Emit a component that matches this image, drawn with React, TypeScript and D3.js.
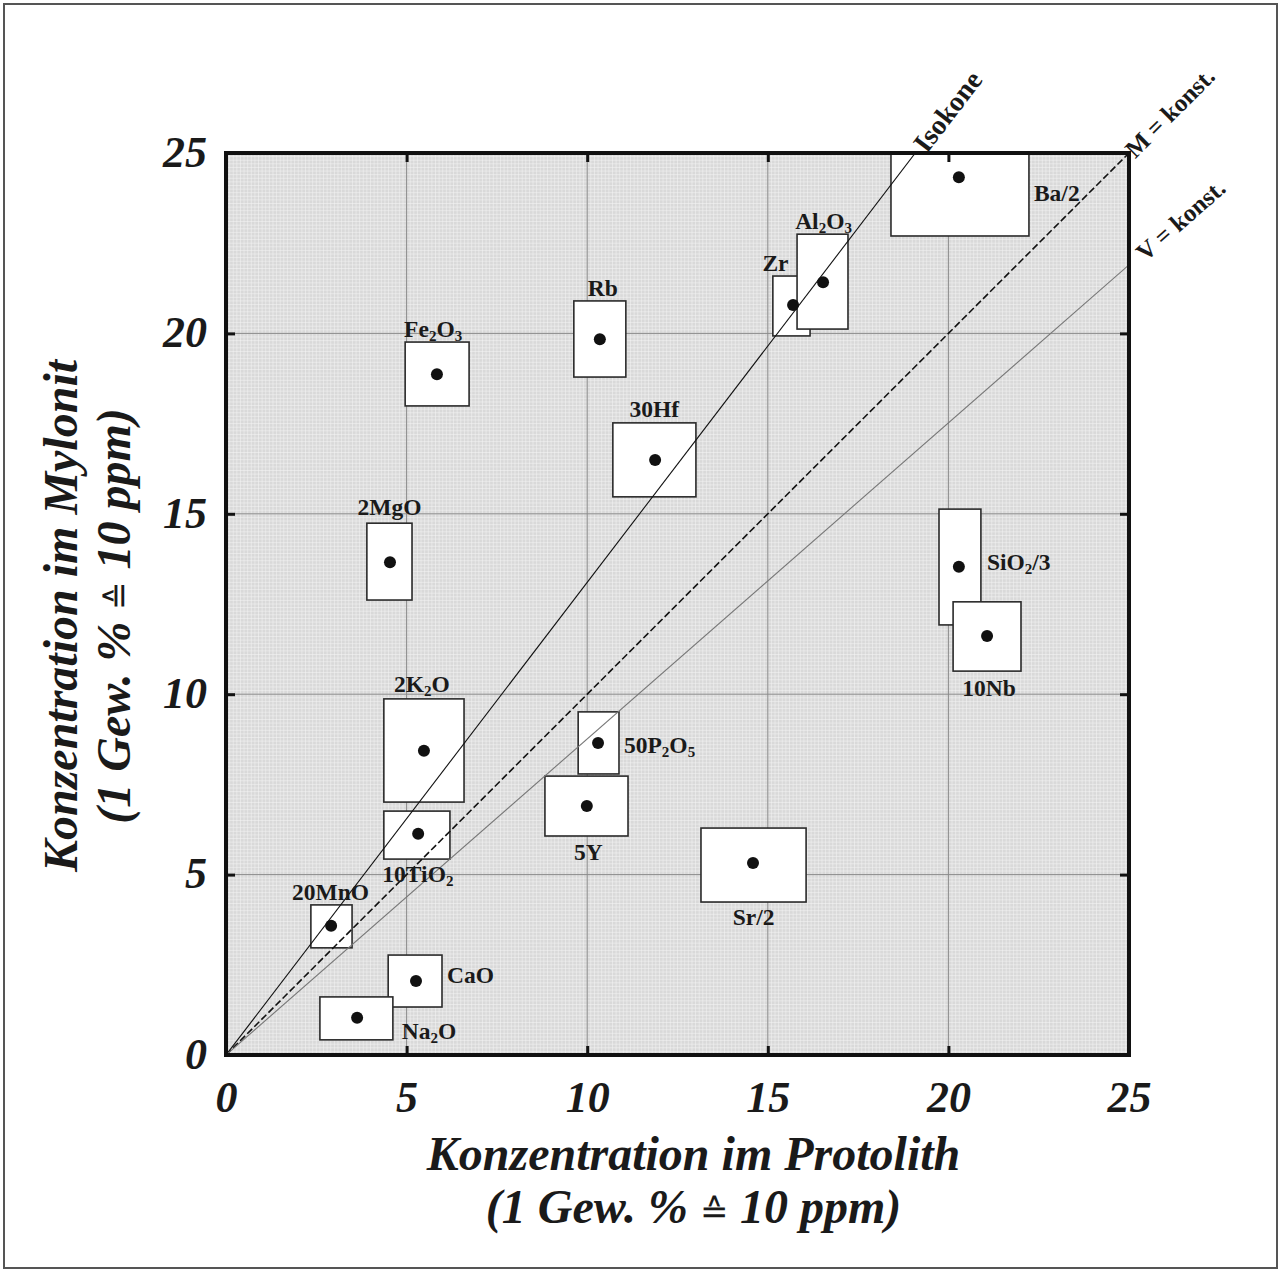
import React, { useEffect, useRef } from "react";
import * as d3 from "d3";

// element labels ("_n" marks a subscript digit)
const elements = ["Fe_2O_3", "Rb", "30Hf", "Zr", "Al_2O_3", "Ba/2", "2MgO", "SiO_2/3", "10Nb", "2K_2O", "10TiO_2", "50P_2O_5", "5Y", "Sr/2", "20MnO", "CaO", "Na_2O"];
// mean concentration in protolith (x) and mylonite (y)
const protolith = [5.84, 10.35, 11.88, 15.7, 16.53, 20.29, 4.54, 20.29, 21.07, 5.48, 5.32, 10.3, 9.99, 14.59, 2.91, 5.26, 3.63];
const mylonit = [18.87, 19.84, 16.49, 20.79, 21.42, 24.33, 13.66, 13.53, 11.61, 8.43, 6.13, 8.65, 6.9, 5.32, 3.58, 2.05, 1.03];
// ranges (boxes)
const protolithMin = [4.96, 9.63, 10.71, 15.14, 15.81, 18.41, 3.9, 19.74, 20.13, 4.37, 4.37, 9.75, 8.83, 13.15, 2.35, 4.49, 2.6];
const protolithMax = [6.73, 11.07, 13.01, 16.17, 17.22, 22.23, 5.15, 20.9, 22.01, 6.59, 6.2, 10.88, 11.13, 16.06, 3.49, 5.98, 4.62];
const mylonitMin = [17.99, 18.79, 15.47, 19.93, 20.12, 22.7, 12.61, 11.92, 10.64, 7.01, 5.43, 7.79, 6.07, 4.24, 2.97, 1.33, 0.42];
const mylonitMax = [19.76, 20.9, 17.52, 21.59, 22.75, 25.0, 14.74, 15.13, 12.56, 9.87, 6.76, 9.51, 7.73, 6.29, 4.16, 2.77, 1.61];

// reference lines through the origin
const refLines = ["Isokone", "M = konst.", "V = konst."];
const refSlopes = [1.31, 1.0, 0.876];

const tickValues = [0, 5, 10, 15, 20, 25];

// where each label goes relative to its box: side, dx, dy
const labelPlace: Record<string, [string, number, number]> = {
  Fe_2O_3: ["top", -4, 0],
  Rb: ["top", 3, 0],
  "30Hf": ["top", 0, -1],
  Zr: ["top", -16, 0],
  Al_2O_3: ["top", 1, 0],
  "Ba/2": ["right", 0, 16],
  "2MgO": ["top", 0, -3],
  "SiO_2/3": ["right", 1, -5],
  "10Nb": ["bottom", 2, 2],
  "2K_2O": ["top", -2, -2],
  "10TiO_2": ["bottom", 1, 0],
  "50P_2O_5": ["right", 0, 2],
  "5Y": ["bottom", 2, 1],
  "Sr/2": ["bottom", 0, 0],
  "20MnO": ["top", -1, 0],
  CaO: ["right", 0, -6],
  Na_2O: ["right", 4, 13],
};

const FONT = "'Liberation Serif', 'Times New Roman', serif";

const IsoconChart = () => {
  const ref = useRef<SVGSVGElement>(null);

  useEffect(() => {
    document.body.style.margin = "0";
    const width = 1280;
    const height = 1271;
    const margin = { left: 226, top: 153, right: 151, bottom: 216 };
    const innerW = width - margin.left - margin.right;
    const innerH = height - margin.top - margin.bottom;

    const svg = d3.select(ref.current);
    svg.selectAll("*").remove();

    // outer frame
    svg
      .append("rect")
      .attr("x", 4)
      .attr("y", 4)
      .attr("width", 1273)
      .attr("height", 1264)
      .attr("fill", "white")
      .attr("stroke", "#555")
      .attr("stroke-width", 2);

    const x = d3.scaleLinear().domain([0, 25]).range([margin.left, margin.left + innerW]);
    const y = d3.scaleLinear().domain([0, 25]).range([margin.top + innerH, margin.top]);

    const g = svg.append("g");

    svg
      .append("defs")
      .append("clipPath")
      .attr("id", "plot-clip")
      .append("rect")
      .attr("x", x(0))
      .attr("y", y(25))
      .attr("width", innerW)
      .attr("height", innerH);

    // shaded background with fine grid
    g.append("rect")
      .attr("x", x(0))
      .attr("y", y(25))
      .attr("width", innerW)
      .attr("height", innerH)
      .attr("fill", "#d9d9d9");

    const fine = d3.range(0, 25.001, 0.1);
    g.append("g")
      .selectAll("line")
      .data(fine)
      .join("line")
      .attr("x1", (d) => x(d))
      .attr("x2", (d) => x(d))
      .attr("y1", y(0))
      .attr("y2", y(25))
      .attr("stroke", "#f4f4f4")
      .attr("stroke-opacity", 0.55)
      .attr("stroke-width", 1);
    g.append("g")
      .selectAll("line")
      .data(fine)
      .join("line")
      .attr("y1", (d) => y(d))
      .attr("y2", (d) => y(d))
      .attr("x1", x(0))
      .attr("x2", x(25))
      .attr("stroke", "#f4f4f4")
      .attr("stroke-opacity", 0.55)
      .attr("stroke-width", 1);

    // major grid
    const major = tickValues.slice(1, -1);
    g.append("g")
      .selectAll("line")
      .data(major)
      .join("line")
      .attr("x1", (d) => x(d))
      .attr("x2", (d) => x(d))
      .attr("y1", y(0))
      .attr("y2", y(25))
      .attr("stroke", "#8a8a8a")
      .attr("stroke-width", 1);
    g.append("g")
      .selectAll("line")
      .data(major)
      .join("line")
      .attr("y1", (d) => y(d))
      .attr("y2", (d) => y(d))
      .attr("x1", x(0))
      .attr("x2", x(25))
      .attr("stroke", "#8a8a8a")
      .attr("stroke-width", 1);

    // boxes
    const idx = d3.range(elements.length);
    g.append("g")
      .selectAll("rect")
      .data(idx)
      .join("rect")
      .attr("x", (i) => x(protolithMin[i]))
      .attr("y", (i) => y(mylonitMax[i]))
      .attr("width", (i) => x(protolithMax[i]) - x(protolithMin[i]))
      .attr("height", (i) => y(mylonitMin[i]) - y(mylonitMax[i]))
      .attr("fill", "white")
      .attr("stroke", "#2a2a2a")
      .attr("stroke-width", 1.6);

    // reference lines
    const line = d3
      .line<[number, number]>()
      .x((d) => x(d[0]))
      .y((d) => y(d[1]));
    const lineStyles = [
      { stroke: "#111", width: 1.1, dash: null, size: 28 },
      { stroke: "#111", width: 1.6, dash: "7,3", size: 25 },
      { stroke: "#777", width: 1.1, dash: null, size: 25 },
    ];
    const labelGap = [6, 0, 14];
    refSlopes.forEach((s, i) => {
      const xEnd = Math.min(25, 25 / s);
      const pts: [number, number][] = [
        [0, 0],
        [xEnd, s * xEnd],
      ];
      g.append("path")
        .attr("d", line(pts))
        .attr("clip-path", "url(#plot-clip)")
        .attr("fill", "none")
        .attr("stroke", lineStyles[i].stroke)
        .attr("stroke-width", lineStyles[i].width)
        .attr("stroke-dasharray", lineStyles[i].dash);
      const px = x(xEnd);
      const py = y(s * xEnd);
      const angle = (Math.atan2(py - y(0), px - x(0)) * 180) / Math.PI;
      svg
        .append("text")
        .attr("transform", `translate(${px},${py}) rotate(${angle})`)
        .attr("dx", labelGap[i])
        .attr("dy", "0.35em")
        .attr("font-family", FONT)
        .attr("font-weight", "bold")
        .attr("font-size", lineStyles[i].size)
        .attr("fill", "#1a1a1a")
        .text(refLines[i]);
    });

    // dots
    g.append("g")
      .selectAll("circle")
      .data(idx)
      .join("circle")
      .attr("cx", (i) => x(protolith[i]))
      .attr("cy", (i) => y(mylonit[i]))
      .attr("r", 6)
      .attr("fill", "#111");

    // element labels
    idx.forEach((i) => {
      const name = elements[i];
      const [side, dx, dy] = labelPlace[name];
      const x0 = x(protolithMin[i]);
      const x1 = x(protolithMax[i]);
      const yTop = y(mylonitMax[i]);
      const yBot = y(mylonitMin[i]);
      let tx = (x0 + x1) / 2 + dx;
      let ty = yTop - 13 + dy;
      let anchor = "middle";
      if (side === "bottom") ty = yBot + 15 + dy;
      if (side === "right") {
        tx = x1 + 5 + dx;
        ty = y(mylonit[i]) + dy;
        anchor = "start";
      }
      const t = svg
        .append("text")
        .attr("x", tx)
        .attr("y", ty)
        .attr("dy", "0.35em")
        .attr("text-anchor", anchor)
        .attr("font-family", FONT)
        .attr("font-weight", "bold")
        .attr("font-size", 23.5)
        .attr("fill", "#1a1a1a");
      name
        .split(/(_\d)/)
        .filter((p) => p.length > 0)
        .forEach((p) => {
          if (p.startsWith("_")) {
            t.append("tspan")
              .attr("baseline-shift", "-25%")
              .attr("font-size", 15)
              .text(p.slice(1));
          } else {
            t.append("tspan").text(p);
          }
        });
    });

    // plot border
    svg
      .append("rect")
      .attr("x", x(0))
      .attr("y", y(25))
      .attr("width", innerW)
      .attr("height", innerH)
      .attr("fill", "none")
      .attr("stroke", "#111")
      .attr("stroke-width", 4);

    // inner tick marks on all four sides
    const tickMarks = (axis: d3.Axis<d3.NumberValue>, tr: string) => {
      const a = svg
        .append("g")
        .attr("transform", tr)
        .call(axis.tickValues(tickValues.slice(1, -1)).tickSize(-9).tickFormat(() => ""));
      a.select(".domain").remove();
      a.selectAll("line").attr("stroke", "#111").attr("stroke-width", 3);
    };
    tickMarks(d3.axisBottom(x), `translate(0,${y(0)})`);
    tickMarks(d3.axisTop(x), `translate(0,${y(25)})`);
    tickMarks(d3.axisLeft(y), `translate(${x(0)},0)`);
    tickMarks(d3.axisRight(y), `translate(${x(25)},0)`);

    // tick labels
    const xAxis = svg
      .append("g")
      .attr("transform", `translate(0,${y(0)})`)
      .call(d3.axisBottom(x).tickValues(tickValues).tickSize(0).tickPadding(26).tickFormat(d3.format("d")));
    xAxis.select(".domain").remove();
    const yAxis = svg
      .append("g")
      .attr("transform", `translate(${x(0)},0)`)
      .call(d3.axisLeft(y).tickValues(tickValues).tickSize(0).tickPadding(19).tickFormat(d3.format("d")));
    yAxis.select(".domain").remove();
    svg
      .selectAll(".tick text")
      .attr("font-family", FONT)
      .attr("font-weight", "bold")
      .attr("font-style", "italic")
      .attr("font-size", 44)
      .attr("fill", "#1a1a1a");
    yAxis.selectAll(".tick text").attr("dy", "0.3em");

    // axis titles
    const title = (tx: number, ty: number, rot: number, lines: string[]) => {
      const t = svg
        .append("text")
        .attr("transform", `translate(${tx},${ty}) rotate(${rot})`)
        .attr("text-anchor", "middle")
        .attr("font-family", FONT)
        .attr("font-weight", "bold")
        .attr("font-style", "italic")
        .attr("font-size", 48)
        .attr("fill", "#1a1a1a");
      lines.forEach((l, k) => {
        const row = t.append("tspan").attr("x", 0).attr("y", k * 53);
        l.split(/(\u2259)/)
          .filter((p) => p.length > 0)
          .forEach((p) => {
            if (p === "\u2259") {
              row
                .append("tspan")
                .attr("font-family", "'DejaVu Serif', serif")
                .attr("font-weight", "normal")
                .attr("font-style", "normal")
                .attr("font-size", 34)
                .text(p);
            } else {
              row.append("tspan").text(p);
            }
          });
      });
    };
    title((x(0) + x(25)) / 2 + 16, 1170, 0, ["Konzentration im Protolith", "(1 Gew. % \u2259 10 ppm)"]);
    title(77, (y(0) + y(25)) / 2 + 12, -90, ["Konzentration im Mylonit", "(1 Gew. % \u2259 10 ppm)"]);
  }, []);

  return <svg ref={ref} width={1280} height={1271} style={{ display: "block" }}></svg>;
};

export default function App() {
  return <IsoconChart />;
}
